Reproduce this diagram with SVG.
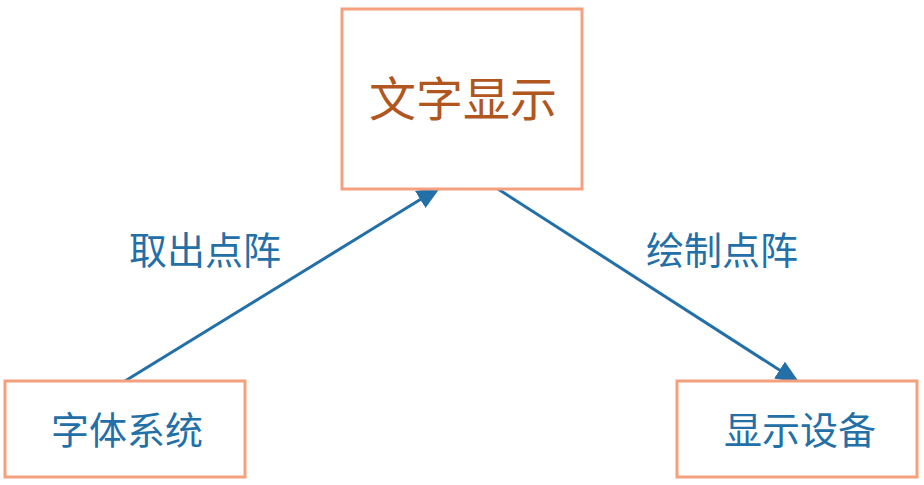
<svg xmlns="http://www.w3.org/2000/svg" width="924" height="485" viewBox="0 0 924 485">
<style>
.box{fill:#fff;stroke:#F4A07E;stroke-width:3}
.t{font-family:"Noto Sans CJK SC","Noto Sans",sans-serif;fill:#2370A8;text-anchor:middle}
.c{stroke:#2370A8;stroke-width:3;fill:none}
</style>
<defs>
<marker id="ah" markerUnits="userSpaceOnUse" markerWidth="26" markerHeight="20" refX="22" refY="10" orient="auto">
<path d="M0,0 L24,10 L0,20 Z" fill="#2370A8"/>
</marker>
</defs>
<rect width="924" height="485" fill="#fff"/>
<g id="connectors">
<line class="c" x1="125" y1="381" x2="439" y2="188" marker-end="url(#ah)"/>
<line class="c" x1="498" y1="189" x2="798" y2="382" marker-end="url(#ah)"/>
<text class="t" x="205" y="264" font-size="38">取出点阵</text>
<text class="t" x="722" y="264" font-size="38">绘制点阵</text>
</g>
<g id="node-wenzi">
<rect class="box" x="342" y="9" width="240" height="180"/>
<text class="t" x="463" y="116" font-size="47" style="fill:#B0561E">文字显示</text>
</g>
<g id="node-ziti">
<rect class="box" x="5" y="381" width="240" height="96"/>
<text class="t" x="127" y="444" font-size="38">字体系统</text>
</g>
<g id="node-xianshi">
<rect class="box" x="677" y="381" width="240" height="96"/>
<text class="t" x="800" y="444" font-size="38">显示设备</text>
</g>
</svg>
